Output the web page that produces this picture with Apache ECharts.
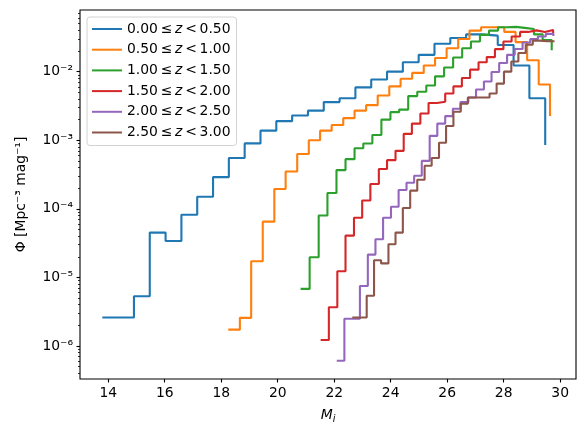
<!DOCTYPE html>
<html><head><meta charset="utf-8">
<script src="https://cdn.jsdelivr.net/npm/echarts@6/dist/echarts.min.js"></script>
<style>html,body{margin:0;padding:0;background:#fff}#c{width:586px;height:435px}</style>
</head><body><div id="c"></div>
<script>
const seriesNames = [
  '0.00\u2009≤\u2009z\u2009<\u20090.50',
  '0.50\u2009≤\u2009z\u2009<\u20091.00',
  '1.00\u2009≤\u2009z\u2009<\u20091.50',
  '1.50\u2009≤\u2009z\u2009<\u20092.00',
  '2.00\u2009≤\u2009z\u2009<\u20092.50',
  '2.50\u2009≤\u2009z\u2009<\u20093.00'
];
const colors = ['#1f77b4', '#ff7f0e', '#2ca02c', '#d62728', '#9467bd', '#8c564b'];

const x0 = [13.79,14.35,14.91,15.47,16.03,16.59,17.15,17.71,18.27,18.83,19.39,19.95,20.51,21.07,21.63,22.19,22.75,23.31,23.87,24.43,24.99,25.55,26.11,26.67,27.23,27.79,28.35,28.91,29.47];
const y0 = [2.6e-6,2.6e-6,5.3e-6,4.5e-5,3.4e-5,8.2e-5,1.5e-4,2.9e-4,5.5e-4,9.0e-4,1.38e-3,1.9e-3,2.3e-3,2.7e-3,3.6e-3,4.1e-3,5.9e-3,7.7e-3,1.0e-2,1.37e-2,1.76e-2,2.55e-2,3.1e-2,3.5e-2,3.35e-2,2.45e-2,1.23e-2,4.1e-3,8.5e-4];

const x1 = [18.25,18.66,19.06,19.47,19.88,20.28,20.69,21.10,21.50,21.91,22.32,22.72,23.13,23.54,23.95,24.35,24.76,25.17,25.57,25.98,26.39,26.79,27.20,27.61,28.02,28.42,28.83,29.24,29.64];
const y1 = [1.73e-6,2.57e-6,1.72e-5,6.5e-5,1.95e-4,3.5e-4,6.3e-4,1.0e-3,1.38e-3,1.67e-3,2.1e-3,2.7e-3,3.25e-3,4.5e-3,6.1e-3,7.9e-3,9.6e-3,1.23e-2,1.58e-2,2.2e-2,3.0e-2,3.97e-2,4.45e-2,4.45e-2,3.8e-2,2.7e-2,1.47e-2,6.5e-3,2.25e-3];

const x2 = [20.81,21.13,21.45,21.76,22.08,22.40,22.72,23.03,23.35,23.67,23.99,24.30,24.62,24.94,25.26,25.57,25.89,26.21,26.53,26.84,27.16,27.48,27.80,28.11,28.43,28.75,29.07,29.38,29.70];
const y2 = [6.8e-6,1.97e-5,8.0e-5,1.7e-4,3.67e-4,5.3e-4,7.65e-4,8.95e-4,1.19e-3,2.0e-3,2.57e-3,2.8e-3,4.4e-3,5.1e-3,6.27e-3,8.55e-3,1.15e-2,1.61e-2,2.2e-2,2.75e-2,3.44e-2,3.97e-2,4.45e-2,4.5e-2,4.35e-2,4.2e-2,3.5e-2,2.9e-2,2.05e-2];

const x3 = [21.52,21.81,22.11,22.40,22.70,22.99,23.28,23.58,23.87,24.17,24.46,24.75,25.05,25.34,25.64,25.93,26.22,26.52,26.81,27.11,27.40,27.69,27.99,28.28,28.58,28.87,29.16,29.46,29.75];
const y3 = [1.22e-6,3.67e-6,1.23e-5,4.07e-5,7.4e-5,1.32e-4,2.3e-4,3.8e-4,5.13e-4,7.0e-4,1.24e-3,1.75e-3,2.46e-3,3.5e-3,3.65e-3,4.8e-3,6.1e-3,8.1e-3,1.07e-2,1.37e-2,1.63e-2,2.13e-2,2.75e-2,3.25e-2,3.8e-2,4.0e-2,3.8e-2,4.05e-2,3.6e-2];

const x4 = [22.09,22.36,22.64,22.91,23.19,23.46,23.73,24.01,24.28,24.56,24.83,25.10,25.38,25.65,25.93,26.20,26.47,26.75,27.02,27.30,27.57,27.84,28.12,28.39,28.67,28.94,29.21,29.49,29.76];
const y4 = [6.1e-7,2.5e-6,2.5e-6,7.5e-6,2.15e-5,3.6e-5,7.4e-5,1.07e-4,1.88e-4,2.4e-4,3.04e-4,5.0e-4,1.16e-3,1.75e-3,2.25e-3,2.88e-3,3.6e-3,4.2e-3,5.5e-3,7.2e-3,9.9e-3,1.34e-2,1.76e-2,2.14e-2,2.66e-2,2.98e-2,3.25e-2,3.56e-2,3.3e-2];

const x5 = [22.64,22.90,23.15,23.41,23.66,23.92,24.17,24.43,24.69,24.94,25.20,25.45,25.71,25.96,26.22,26.48,26.73,26.99,27.24,27.50,27.75,28.01,28.27,28.52,28.78,29.03,29.29,29.54,29.80];
const y5 = [2.6e-6,2.6e-6,5.4e-6,1.78e-5,1.6e-5,3.04e-5,4.5e-5,1.03e-4,1.84e-4,2.66e-4,4.25e-4,5.5e-4,9.2e-4,1.61e-3,2.6e-3,3.4e-3,4.2e-3,4.2e-3,4.2e-3,4.8e-3,6.7e-3,1.0e-2,1.41e-2,1.87e-2,2.48e-2,2.84e-2,2.78e-2,2.78e-2,2.8e-2];

const xTicks = [14,16,18,20,22,24,26,28,30];
const yTicks = [1e-6,1e-5,1e-4,1e-3,1e-2];
const yMinorTicks = [4e-7,5e-7,6e-7,7e-7,8e-7,9e-7,
  2e-6,3e-6,4e-6,5e-6,6e-6,7e-6,8e-6,9e-6,
  2e-5,3e-5,4e-5,5e-5,6e-5,7e-5,8e-5,9e-5,
  2e-4,3e-4,4e-4,5e-4,6e-4,7e-4,8e-4,9e-4,
  2e-3,3e-3,4e-3,5e-3,6e-3,7e-3,8e-3,9e-3,
  2e-2,3e-2,4e-2,5e-2,6e-2,7e-2];

const xs = [x0,x1,x2,x3,x4,x5];
const ys = [y0,y1,y2,y3,y4,y5];

const FONT = 'DejaVu Sans';
const FS = 13.9;
const supMap = {'-':'\u207B','0':'\u2070','1':'\u00B9','2':'\u00B2','3':'\u00B3','4':'\u2074','5':'\u2075','6':'\u2076','7':'\u2077','8':'\u2078','9':'\u2079'};
function sup(s){ return String(s).split('').map(c => supMap[c] || c).join(''); }

const chart = echarts.init(document.getElementById('c'), null, {renderer: 'canvas'});
const option = {
  backgroundColor: '#ffffff',
  animation: false,
  textStyle: {fontFamily: FONT},
  grid: {left: 80, top: 10, width: 496, height: 369, show: true, borderColor: '#000', borderWidth: 1.1, backgroundColor: 'transparent', containLabel: false, outerBoundsMode: 'none'},
  legend: {
    orient: 'vertical', left: 87, top: 17,
    padding: [4, 6, 5, 5],
    itemWidth: 30, itemHeight: 2, itemGap: 4.7,
    icon: 'rect',
    backgroundColor: 'rgba(255,255,255,0.8)',
    borderColor: '#d3d3d3', borderWidth: 1, borderRadius: 3,
    selectedMode: false,
    data: seriesNames,
    formatter: name => '{a|' + name.replace('z', '}{z|z}{a|') + '}',
    textStyle: {
      fontFamily: FONT, fontSize: FS, color: '#000', lineHeight: 16,
      rich: {
        a: {fontFamily: FONT, fontSize: FS, color: '#000', lineHeight: 16},
        z: {fontFamily: FONT, fontSize: FS, color: '#000', fontStyle: 'italic', lineHeight: 16}
      }
    }
  },
  xAxis: {
    type: 'value', min: 13.0, max: 30.56,
    name: '{m|M}{s|i}', nameLocation: 'middle', nameGap: 27,
    nameTextStyle: {
      rich: {
        m: {fontFamily: FONT, fontSize: FS, fontStyle: 'italic', color: '#000', lineHeight: 18},
        s: {fontFamily: FONT, fontSize: 9.7, fontStyle: 'italic', color: '#000', verticalAlign: 'bottom', lineHeight: 18}
      }
    },
    axisLine: {show: false},
    splitLine: {show: false},
    axisTick: {show: true, length: 3.5, inside: false, customValues: xTicks, lineStyle: {color: '#000', width: 1.1}},
    axisLabel: {customValues: xTicks, margin: 7, fontFamily: FONT, fontSize: FS, color: '#000'}
  },
  yAxis: [{
    type: 'log', logBase: 10, min: 3.3e-7, max: 0.0793,
    name: '\u03A6 [Mpc' + sup('-3') + ' mag' + sup('-1') + ']',
    nameLocation: 'middle', nameGap: 52, nameRotate: 90,
    nameTextStyle: {fontFamily: FONT, fontSize: FS, color: '#000'},
    axisLine: {show: false},
    splitLine: {show: false},
    minorTick: {show: false},
    axisTick: {show: true, length: 3.5, customValues: yTicks, lineStyle: {color: '#000', width: 1.1}},
    axisLabel: {customValues: yTicks, margin: 7, fontFamily: FONT, fontSize: FS, color: '#000',
      formatter: v => '10' + sup(Math.round(Math.log10(v)))}
  }, {
    type: 'log', logBase: 10, min: 3.3e-7, max: 0.0793, position: 'left',
    axisLine: {show: false}, splitLine: {show: false},
    axisLabel: {show: false},
    axisTick: {show: true, length: 2, customValues: yMinorTicks, lineStyle: {color: '#000', width: 0.8}}
  }],
  series: xs.map((xa, i) => ({
    name: seriesNames[i],
    type: 'line',
    step: 'end',
    symbol: 'none',
    yAxisIndex: 0,
    color: colors[i],
    lineStyle: {width: 2.1, color: colors[i]},
    data: xa.map((x, j) => [x, ys[i][j]])
  }))
};
chart.setOption(option);
</script>
</body></html>
